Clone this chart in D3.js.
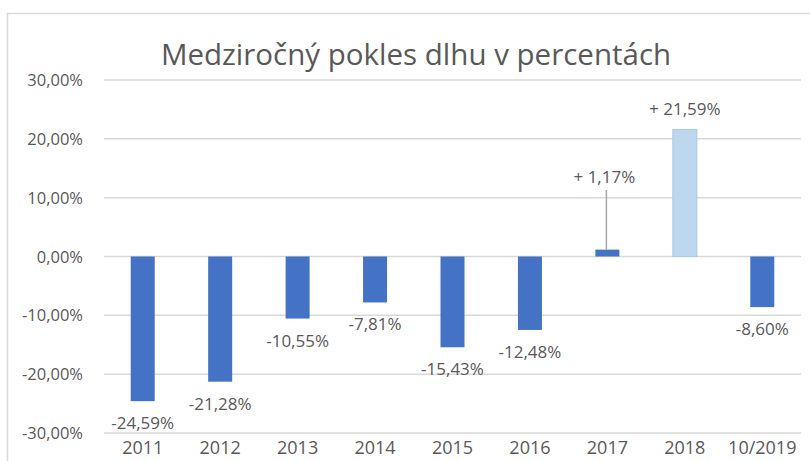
<!DOCTYPE html>
<html>
<head>
<meta charset="utf-8">
<script src="https://cdn.jsdelivr.net/npm/d3@7"></script>
<style>
  html, body { margin: 0; padding: 0; background: #fff; }
  svg { display: block; }
  text { font-family: "Open Sans", sans-serif; fill: #595959; }
</style>
</head>
<body>
<svg id="chart" width="810" height="461"></svg>
<script>
const categories = ["2011", "2012", "2013", "2014", "2015", "2016", "2017", "2018", "10/2019"];
const values = [-24.59, -21.28, -10.55, -7.81, -15.43, -12.48, 1.17, 21.59, -8.60];
const labels = ["-24,59%", "-21,28%", "-10,55%", "-7,81%", "-15,43%", "-12,48%", "+ 1,17%", "+ 21,59%", "-8,60%"];
const tickValues = [30, 20, 10, 0, -10, -20, -30];
const title = "Medziročný pokles dlhu v percentách";

const svg = d3.select("#chart");
const W = 810, H = 461;
const plot = { left: 104, right: 801, top: 80, bottom: 433 };

// chart frame
svg.append("path")
  .attr("d", `M7.5,${H} L7.5,13.5 L${W},13.5`)
  .attr("fill", "none").attr("stroke", "#D9D9D9").attr("stroke-width", 1.5);

svg.append("text")
  .attr("x", 416).attr("y", 65)
  .attr("text-anchor", "middle")
  .style("font-size", "29.5px")
  .text(title);

const x = d3.scaleBand().domain(categories).range([plot.left, plot.right]);
const y = d3.scaleLinear().domain([-30, 30]).range([plot.bottom, plot.top]);
const barW = x.bandwidth() * 0.31;

// gridlines
svg.append("g").selectAll("line").data(tickValues).join("line")
  .attr("x1", plot.left).attr("x2", plot.right)
  .attr("y1", d => y(d)).attr("y2", d => y(d))
  .attr("stroke", "#D9D9D9").attr("stroke-width", 1.5);

// y axis labels
const fmt = d => d3.format(".2f")(d).replace("−", "-").replace(".", ",") + "%";
svg.append("g").selectAll("text").data(tickValues).join("text")
  .attr("x", 83).attr("y", d => y(d) + 6)
  .attr("text-anchor", "end")
  .style("font-size", "16.5px")
  .text(d => fmt(d));

// x axis labels
svg.append("g").selectAll("text").data(categories).join("text")
  .attr("x", d => x(d) + x.bandwidth() / 2).attr("y", 454)
  .attr("text-anchor", "middle")
  .style("font-size", "18px")
  .text(d => d);

// bars
svg.append("g").selectAll("rect").data(values).join("rect")
  .attr("x", (d, i) => x(categories[i]) + x.bandwidth() / 2 - barW / 2)
  .attr("width", barW)
  .attr("y", d => y(Math.max(0, d)))
  .attr("height", d => Math.abs(y(d) - y(0)))
  .attr("fill", (d, i) => categories[i] === "2018" ? "#BDD7EE" : "#4472C4")
  .attr("stroke", (d, i) => categories[i] === "2018" ? "#A9C8E8" : "none")
  .attr("stroke-width", 1);

// leader line for 2017
const i17 = categories.indexOf("2017");
svg.append("line")
  .attr("x1", x("2017") + x.bandwidth() / 2 - 1).attr("x2", x("2017") + x.bandwidth() / 2 - 1)
  .attr("y1", 190).attr("y2", y(values[i17]))
  .attr("stroke", "#A6A6A6").attr("stroke-width", 1.5);

// data labels
svg.append("g").selectAll("text").data(values).join("text")
  .attr("x", (d, i) => x(categories[i]) + x.bandwidth() / 2 + (categories[i] === "2017" ? -3 : 0))
  .attr("y", (d, i) => {
    if (categories[i] === "2017") return 183;
    return d >= 0 ? y(d) - 14 : y(d) + 28;
  })
  .attr("text-anchor", "middle")
  .style("font-size", "17px")
  .text((d, i) => labels[i]);
</script>
</body>
</html>
